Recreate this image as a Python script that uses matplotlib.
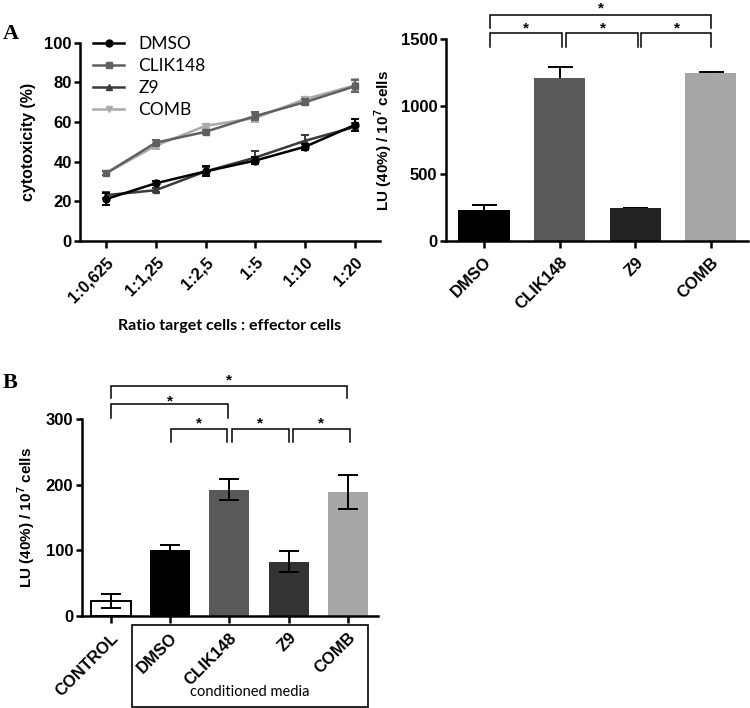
import matplotlib
matplotlib.use("Agg")
import matplotlib.pyplot as plt
from matplotlib.patches import Rectangle
from matplotlib.lines import Line2D
import numpy as np

plt.rcParams['font.family'] = ['Liberation Sans', 'DejaVu Sans']
plt.rcParams['font.weight'] = 'bold'
plt.rcParams['axes.labelweight'] = 'bold'
plt.rcParams['mathtext.fontset'] = 'custom'
plt.rcParams['mathtext.bf'] = 'Liberation Sans:bold'
plt.rcParams['mathtext.rm'] = 'Liberation Sans:bold'

# ---------------- data ----------------
ratios = ['1:0,625', '1:1,25', '1:2,5', '1:5', '1:10', '1:20']
line_series = ['DMSO', 'CLIK148', 'Z9', 'COMB']
dmso_cyt = [21, 29, 35, 40.5, 47.5, 58.5]
dmso_err = [3, 1, 2.5, 2, 1.5, 3]
clik_cyt = [34, 49.5, 55, 63, 70, 78]
clik_err = [1, 1.5, 1, 2, 1.5, 3]
z9_cyt = [23, 25.5, 35, 42, 50.5, 57.5]
z9_err = [1.5, 1, 2, 3.5, 3, 2]
comb_cyt = [34, 48, 58, 62, 71.5, 78.5]
comb_err = [1, 1.5, 1, 2, 1, 3]

a_groups = ['DMSO', 'CLIK148', 'Z9', 'COMB']
a_lu = [225, 1210, 240, 1250]
a_lu_err = [40, 82, 5, 8]

b_groups = ['CONTROL', 'DMSO', 'CLIK148', 'Z9', 'COMB']
b_lu = [23, 101, 192, 83, 189]
b_lu_err = [11, 8, 16, 16, 26]

# ---------------- layout helpers ----------------
W, H = 750, 708
fig = plt.figure(figsize=(W / 100, H / 100), dpi=100)
TICK_FS = 12

def ax_px(left, top, right, bottom):
    return fig.add_axes([left / W, 1 - bottom / H, (right - left) / W, (bottom - top) / H])

def style(ax):
    for s in ['top', 'right']:
        ax.spines[s].set_visible(False)
    for s in ['left', 'bottom']:
        ax.spines[s].set_linewidth(1.8)
    ax.tick_params(width=1.8, length=4, labelsize=TICK_FS, pad=2)
    ax.tick_params(axis='x', length=5, pad=5)

def rot_labels(ax, labels):
    ax.set_xticklabels(labels, rotation=45, ha='right', rotation_mode='anchor',
                       fontweight='bold')

# ---------------- Panel A left ----------------
ax1 = ax_px(80, 42.7, 380, 240.7)
x = np.arange(len(ratios))
specs = [
    (dmso_cyt, dmso_err, 'o', '#000000'),
    (clik_cyt, clik_err, 's', '#606060'),
    (z9_cyt, z9_err, '^', '#3a3a3a'),
    (comb_cyt, comb_err, 'v', '#aaaaaa'),
]
order = [3, 1, 2, 0]
for i in order:
    vals, err, m, c = specs[i]
    ax1.errorbar(x, vals, yerr=err, color=c, marker=m, markersize=5,
                 linewidth=1.8, capsize=3, elinewidth=1.4, capthick=1.4,
                 zorder=3 + (3 - i))
ax1.set_xlim(-0.52, 5.5)
ax1.set_ylim(0, 100)
ax1.set_yticks([0, 20, 40, 60, 80, 100])
ax1.set_xticks(x)
rot_labels(ax1, ratios)
style(ax1)
ax1.set_ylabel('cytotoxicity (%)', fontweight='bold', fontsize=11.5, labelpad=6)
ax1.set_xlabel('Ratio target cells : effector cells', fontweight='bold',
               fontsize=11.5, family=['Lato', 'DejaVu Sans'], labelpad=10)
leg_handles = [Line2D([], [], color=s[3], marker=s[2], markersize=5, linewidth=1.8)
               for s in specs]
ax1.legend(leg_handles, line_series, loc='upper left',
           frameon=False,
           prop={'family': ['Lato', 'DejaVu Sans'], 'size': 12.5, 'weight': 'normal'},
           bbox_to_anchor=(0.02, 1.07), handlelength=1.8, labelspacing=0.35,
           handletextpad=0.8, borderaxespad=0)

# ---------------- Panel A right ----------------
ax2 = ax_px(445.7, 39.3, 748, 240.7)
xa = np.arange(len(a_groups))
a_colors = ['#000000', '#595959', '#222222', '#a6a6a6']
ax2.bar(xa, a_lu, width=0.675, color=a_colors, zorder=2)
ax2.errorbar(xa, a_lu, yerr=a_lu_err, fmt='none', ecolor='black',
             elinewidth=1.4, capsize=9, capthick=1.4, zorder=1)
ax2.set_xlim(-0.506, 3.49)
ax2.set_ylim(0, 1500)
ax2.set_yticks([0, 500, 1000, 1500])
ax2.set_xticks(xa)
rot_labels(ax2, a_groups)
style(ax2)
ax2.set_ylabel(r'LU (40%) / 10$^{\mathbf{7}}$ cells', fontweight='bold',
               fontsize=11, labelpad=4)

def bracket(ax, x0, x1, yh, yl0, yl1, star_x, star_y):
    ax.plot([x0, x0, x1, x1], [yl0, yh, yh, yl1], color='black', lw=1.1,
            clip_on=False, solid_joinstyle='miter', zorder=5)
    ax.text(star_x, star_y, '*', ha='center', va='center', fontsize=11,
            fontweight='bold', clip_on=False)

bracket(ax2, 0.08, 3.0, 1681, 1584, 1584, 1.55, 1730)
bracket(ax2, 0.08, 1.03, 1547, 1443, 1443, 0.56, 1580)
bracket(ax2, 1.09, 2.03, 1547, 1443, 1443, 1.57, 1580)
bracket(ax2, 2.08, 3.0, 1547, 1443, 1443, 2.55, 1580)

# ---------------- Panel B ----------------
ax3 = ax_px(81.7, 418.7, 378, 616.3)
xb = np.arange(len(b_groups))
b_colors = ['#ffffff', '#000000', '#595959', '#333333', '#a6a6a6']
ax3.bar(xb, b_lu, width=0.675, color=b_colors,
        edgecolor=['black', 'none', 'none', 'none', 'none'], linewidth=1.4, zorder=2)
ax3.errorbar(xb, b_lu, yerr=b_lu_err, fmt='none', ecolor='black',
             elinewidth=1.4, capsize=7.5, capthick=1.4, zorder=3)
ax3.set_xlim(-0.49, 4.51)
ax3.set_ylim(0, 300)
ax3.set_yticks([0, 100, 200, 300])
ax3.set_xticks(xb)
rot_labels(ax3, b_groups)
style(ax3)
ax3.set_ylabel(r'LU (40%) / 10$^{\mathbf{7}}$ cells', fontweight='bold',
               fontsize=11, labelpad=6)

bracket(ax3, 0.0, 3.98, 350, 331, 331, 2.0, 358)
bracket(ax3, 0.0, 1.98, 322, 301, 301, 1.0, 326)
bracket(ax3, 1.01, 1.97, 284.4, 265, 265, 1.49, 293)
bracket(ax3, 2.04, 3.01, 284.4, 265, 265, 2.52, 293)
bracket(ax3, 3.07, 4.03, 284.4, 265, 265, 3.55, 293)

# conditioned media box
fig.patches.append(Rectangle((131.7 / W, 1 - 706.7 / H), (368.3 - 131.7) / W,
                             (706.7 - 625) / H, transform=fig.transFigure,
                             fill=False, edgecolor='black', linewidth=1.2))
fig.text(250 / W, 1 - 692 / H, 'conditioned media', ha='center', va='center',
         fontsize=10.5, fontweight='normal', family=['Lato', 'DejaVu Sans'])

# panel labels
fig.text(3 / W, 1 - 39 / H, 'A', fontsize=16, fontweight='bold',
         family=['Liberation Serif', 'DejaVu Serif'], ha='left', va='baseline')
fig.text(3 / W, 1 - 388 / H, 'B', fontsize=16, fontweight='bold',
         family=['Liberation Serif', 'DejaVu Serif'], ha='left', va='baseline')

fig.savefig('out.png', dpi=100)
